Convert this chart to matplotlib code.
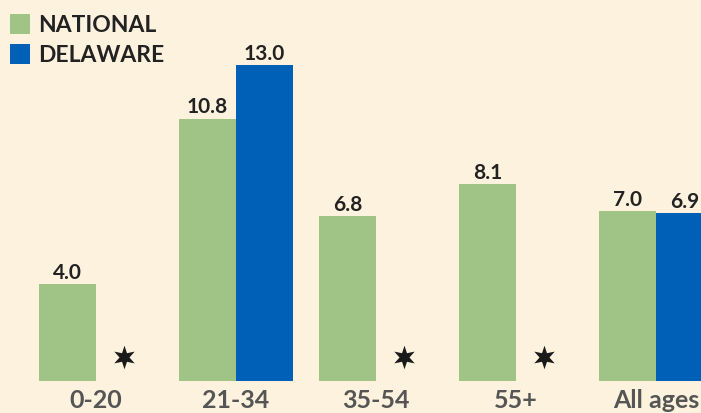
import matplotlib
matplotlib.use("Agg")
import matplotlib.pyplot as plt
from matplotlib.patches import Rectangle
from matplotlib.path import Path
import numpy as np

categories = ["0-20", "21-34", "35-54", "55+", "All ages"]
national = [4.0, 10.8, 6.8, 8.1, 7.0]
delaware = [None, 13.0, None, None, 6.9]
series_names = ["NATIONAL", "DELAWARE"]

BG = "#FDF2DE"
GREEN = "#A0C485"
BLUE = "#0060B8"
FONT = "Lato"

W, H = 701, 414
fig = plt.figure(figsize=(W / 100, H / 100), dpi=100, facecolor=BG)
ax = fig.add_axes([0, 32 / H, 1, 382 / H])
ax.set_facecolor(BG)

x = np.arange(len(categories))
bw = 0.407
ax.bar(x - bw / 2, national, width=bw, color=GREEN, linewidth=0)
d_x = [xi + bw / 2 for xi, v in zip(x, delaware) if v is not None]
d_v = [v for v in delaware if v is not None]
ax.bar(d_x, d_v, width=bw, color=BLUE, linewidth=0)

# six-pointed star marker shape
ang = np.pi / 2 + np.arange(12) * np.pi / 6
rad = np.where(np.arange(12) % 2 == 0, 1.0, 0.42)
verts = np.column_stack([rad * np.cos(ang), rad * np.sin(ang)])
verts = np.vstack([verts, verts[:1]])
codes = [Path.MOVETO] + [Path.LINETO] * 11 + [Path.CLOSEPOLY]
star = Path(verts, codes)

star_x = [xi + bw / 2 for xi, v in zip(x, delaware) if v is None]
ax.plot(star_x, [0.99] * len(star_x), linestyle="none", marker=star,
        markersize=17, color="#1a1a1a", markeredgewidth=0)

for xi, v in zip(x, national):
    ax.annotate(f"{v:.1f}", (xi - bw / 2, v), xytext=(0, 4.5), textcoords="offset points",
                ha="center", va="baseline", fontsize=15, fontweight="bold",
                family=FONT, color="#222222", annotation_clip=False)
for xi, v in zip(d_x, d_v):
    ax.annotate(f"{v:.1f}", (xi, v), xytext=(0, 4.5), textcoords="offset points",
                ha="center", va="baseline", fontsize=15, fontweight="bold",
                family=FONT, color="#222222", annotation_clip=False)

ax.set_xlim(-96 / 140, (W - 96) / 140)
ax.set_ylim(0, 382 / 24.3)
ax.set_xticks(x)
ax.set_xticklabels(categories, fontsize=18, fontweight="bold", family=FONT, color="#555555")
ax.tick_params(axis="x", length=0, pad=5)
ax.set_yticks([])
for s in ax.spines.values():
    s.set_visible(False)

# legend
for i, (name, col) in enumerate(zip(series_names, [GREEN, BLUE])):
    y0 = H - 35 - i * 30
    fig.patches.append(Rectangle((10 / W, y0 / H), 20 / W, 20 / H, transform=fig.transFigure,
                                 color=col, linewidth=0))
    fig.text(38 / W, (y0 + 10) / H, name, ha="left", va="center", fontsize=16.5,
             fontweight="bold", family=FONT, color="#222222")

fig.savefig("out.png", dpi=100, facecolor=BG)
